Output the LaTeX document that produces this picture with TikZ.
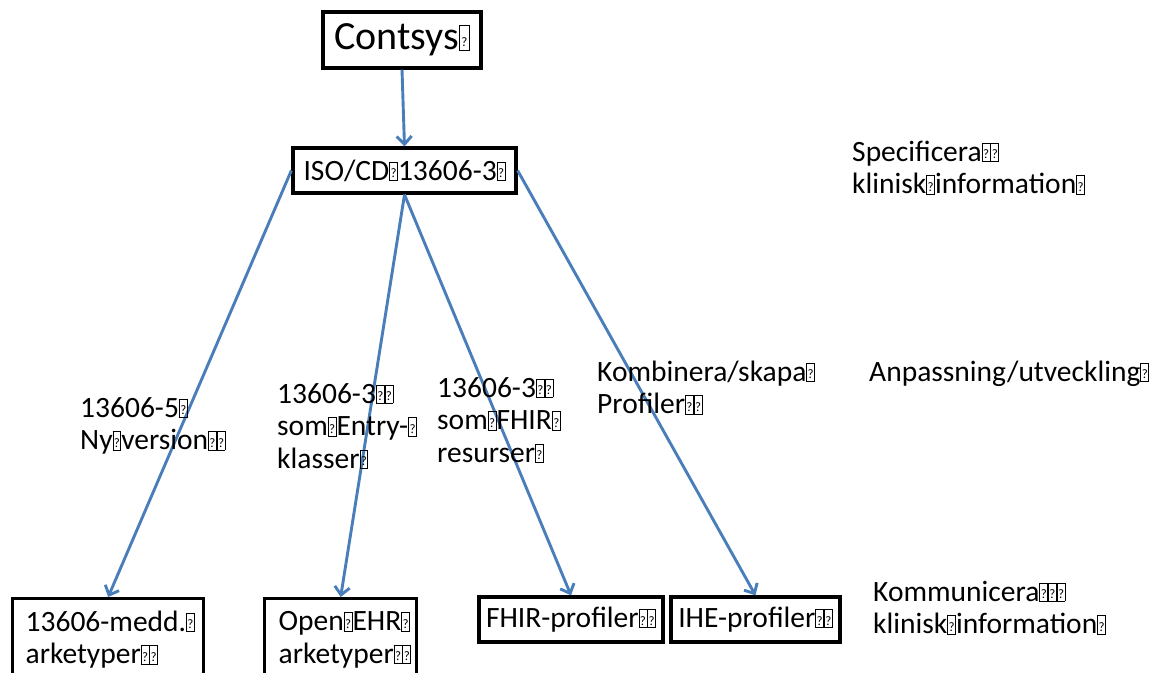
\documentclass[tikz,border=0pt]{standalone}
\usepackage{fontspec}
\setmainfont{Carlito}
\usetikzlibrary{arrows.meta}
\definecolor{lineblue}{HTML}{4A7EBB}
% small framed question mark standing in for a missing glyph
\newcommand\tf{{\fboxsep=0pt\fboxrule=0.8pt\fbox{\makebox[0.24em]{\rule{0pt}{0.6em}\raisebox{0.08em}{\fontsize{13}{13}\selectfont ?}}}}}
\begin{document}
\begin{tikzpicture}[x=1pt,y=-1pt,
  txt/.style={font=\fontsize{29.5}{32.5}\selectfont},
  box/.style={draw, line width=3.3pt, inner sep=0pt, txt},
  lbl/.style={inner sep=0pt, anchor=base west, align=left, text width=#1, txt},
  lbl/.default=340pt,
  conn/.style={draw=lineblue, line width=2.9pt, -{Straight Barb[length=8pt,width=15pt,line width=2.9pt]}}]
\clip (0,0) rectangle (1164,672);

% boxes
\node[box, minimum width=158pt, minimum height=56pt, font=\fontsize{40}{44}\selectfont] (contsys) at (402,40) {Contsys\tf};
\node[box, minimum width=223pt, minimum height=45pt] (iso) at (404.5,170.5) {ISO/CD\tf13606-3\tf};
\node[box, anchor=north west, minimum width=191pt, minimum height=82pt, inner xsep=13pt, text width=165pt, align=left] (medd) at (11,597) {\mbox{13606-medd.\tf}\\\mbox{arketyper\tf\tf}};
\node[box, anchor=north west, minimum width=152pt, minimum height=82pt, inner xsep=14pt, text width=124pt, align=left] (oehr) at (263,597) {\mbox{Open\tf EHR\tf}\\\mbox{arketyper\tf\tf}};
\node[box, minimum width=184pt, minimum height=45pt] (fhir) at (571,619.5) {FHIR-profiler\tf\tf};
\node[box, minimum width=169pt, minimum height=45pt] (ihe) at (755.5,619.5) {IHE-profiler\tf\tf};

% connectors
\draw[conn] (contsys.south) -- (iso.north);
\draw[conn] (iso.west) -- (medd.north);
\draw[conn] (iso.south) -- (oehr.north);
\draw[conn] (iso.south) -- (fhir.north);
\draw[conn] (iso.east) -- (ihe.north);

% labels
\node[lbl] (spec) at (852,161) {Specificera\tf\tf\\klinisk\tf information\tf};
\node[lbl] (anp) at (869,381) {Anpassning/utveckling\tf};
\node[lbl] (komb) at (597,381) {Kombinera/skapa\tf\\Profiler\tf\tf};
\node[lbl=150pt] (lfhir) at (437,397) {13606-3\tf\tf\\som\tf FHIR\tf\\resurser\tf};
\node[lbl=150pt] (lentry) at (277,403) {13606-3\tf\tf\\som\tf Entry-\tf\\klasser\tf};
\node[lbl=180pt] (lny) at (80,417) {13606-5\tf\\Ny\tf version\tf\tf};
\node[lbl] (komm) at (873,601) {Kommunicera\tf\tf\tf\\klinisk\tf information\tf};
\end{tikzpicture}
\end{document}
